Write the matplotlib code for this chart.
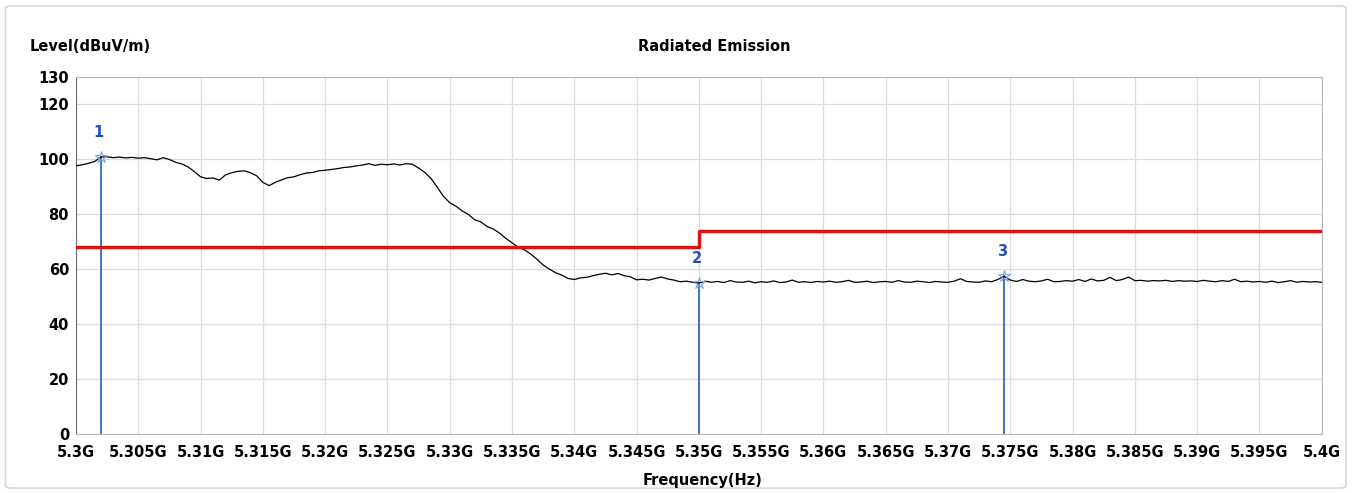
import numpy as np
import matplotlib.pyplot as plt
from matplotlib.patches import FancyBboxPatch

plt.rcParams['font.family'] = ['DejaVu Sans']
plt.rcParams['font.weight'] = 'bold'

# frequency sweep in GHz, 0.5 MHz step
freq_start, freq_stop, freq_step = 5.3, 5.4, 0.0005
level = [
    97.6, 98.0, 98.5, 99.2, 100.8, 100.9, 100.6, 100.8, 100.5, 100.7,
    100.4, 100.6, 100.2, 99.8, 100.6, 99.9, 98.9, 98.3, 97.2, 95.5,
    93.6, 93.0, 93.2, 92.4, 94.3, 95.1, 95.6, 95.8, 95.1, 94.0,
    91.6, 90.4, 91.6, 92.5, 93.3, 93.6, 94.4, 95.0, 95.2, 95.8,
    96.0, 96.3, 96.6, 97.0, 97.2, 97.6, 97.9, 98.4, 97.8, 98.2,
    98.0, 98.3, 97.9, 98.4, 98.2, 96.8, 95.2, 93.0, 89.8, 86.5,
    84.2, 82.9, 81.2, 79.9, 78.0, 77.2, 75.5, 74.6, 73.1, 71.2,
    69.6, 67.9, 67.0, 65.5, 63.6, 61.5, 60.0, 58.7, 57.8, 56.6,
    56.2, 56.8, 57.0, 57.6, 58.1, 58.5, 57.9, 58.4, 57.6, 57.2,
    56.1, 56.3, 56.0, 56.6, 57.1, 56.4, 56.0, 55.4, 55.6, 55.2,
    54.9, 55.6, 55.2, 55.5, 55.1, 55.8, 55.3, 55.2, 55.6, 55.0,
    55.4, 55.2, 55.7, 55.1, 55.3, 56.0, 55.2, 55.4, 55.1, 55.5,
    55.3, 55.6, 55.2, 55.4, 55.9, 55.2, 55.3, 55.6, 55.1, 55.4,
    55.5, 55.2, 55.8, 55.3, 55.2, 55.6, 55.4, 55.1, 55.5, 55.3,
    55.2, 55.6, 56.5, 55.5, 55.3, 55.2, 55.7, 55.4, 56.2, 57.4,
    56.0, 55.5, 56.2, 55.6, 55.4, 55.7, 56.3, 55.4, 55.5, 55.8,
    55.6, 56.2, 55.5, 56.4, 55.7, 55.9, 57.0, 55.8, 56.2, 57.1,
    55.8, 55.9, 55.6, 55.8, 55.7, 55.9, 55.5, 55.8, 55.6, 55.7,
    55.5, 55.9, 55.6, 55.4, 55.8, 55.5, 56.3, 55.4, 55.6, 55.3,
    55.5, 55.2, 55.6, 55.1, 55.4, 55.8, 55.2, 55.5, 55.3, 55.4,
    55.2,
]
freq = freq_start + freq_step * np.arange(len(level))

# limit line (two segments, step at 5.35G)
limit_freq = [5.3, 5.35, 5.35, 5.4]
limit_level = [68.2, 68.2, 74.0, 74.0]

# markers
marker_id = ['1', '2', '3']
marker_freq = [5.302, 5.35, 5.3745]
marker_level = [100.8, 54.9, 57.4]

xticks = np.round(np.arange(5.3, 5.4001, 0.005), 3)
xtick_labels = ['5.3G', '5.305G', '5.31G', '5.315G', '5.32G', '5.325G', '5.33G',
                '5.335G', '5.34G', '5.345G', '5.35G', '5.355G', '5.36G', '5.365G',
                '5.37G', '5.375G', '5.38G', '5.385G', '5.39G', '5.395G', '5.4G']
yticks = [0, 20, 40, 60, 80, 100, 120, 130]

fig = plt.figure(figsize=(13.57, 4.93), dpi=100)
frame = FancyBboxPatch((0.004, 0.01), 0.988, 0.978, boxstyle='round,pad=0,rounding_size=0.005',
                       transform=fig.transFigure, fc='white', ec='#d8d8d8', lw=1.2, zorder=-10)
fig.patches.append(frame)
ax = fig.add_axes([0.056, 0.12, 0.918, 0.724])
ax.set_zorder(2)

ax.plot(freq, level, color='black', lw=0.9, zorder=3)
ax.plot(limit_freq, limit_level, color='#e31010', lw=2.4, zorder=4)

for mid, mf, ml in zip(marker_id, marker_freq, marker_level):
    ax.plot([mf, mf], [0, ml], color='#3c74c4', lw=1.4, zorder=2)
    ax.plot(mf, ml, marker='*', ms=9, mfc='none', mec='#7aa7e0', mew=0.8, zorder=5)
    ax.annotate(mid, (mf, ml), xytext=(-1.5, 17.5), textcoords='offset points',
                ha='center', va='center', color='#1f4fc0', fontsize=10.5, fontweight='bold')

ax.set_xlim(5.3, 5.4)
ax.set_ylim(0, 130)
ax.set_xticks(xticks)
ax.set_xticklabels(xtick_labels)
ax.set_yticks(yticks)
ax.tick_params(length=0, labelsize=10.5, pad=8)
ax.tick_params(axis='y', pad=5)
ax.grid(color='#dcdcdc', lw=0.9)
for s in ax.spines.values():
    s.set_color('#b8b8b8')
ax.spines['left'].set_color('#707070')

fig.text(0.022, 0.905, 'Level(dBuV/m)', fontsize=10.5, fontweight='bold', va='center', ha='left')
fig.text(0.526, 0.905, 'Radiated Emission', fontsize=10.5, fontweight='bold', va='center', ha='center')
fig.text(0.518, 0.026, 'Frequency(Hz)', fontsize=10.5, fontweight='bold', va='center', ha='center')

fig.savefig('out.png', dpi=100)
